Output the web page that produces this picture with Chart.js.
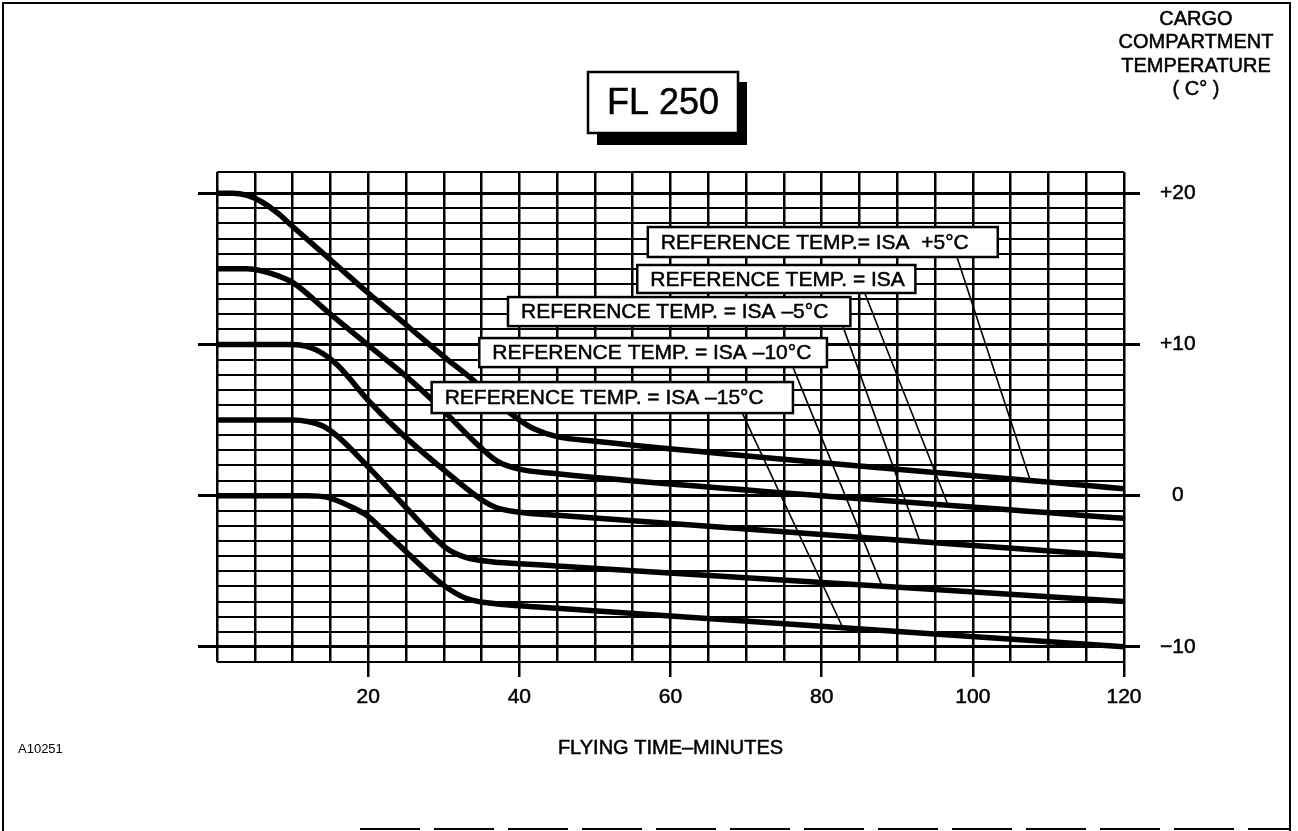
<!DOCTYPE html>
<html>
<head>
<meta charset="utf-8">
<title>FL 250 cargo compartment temperature</title>
<script src="https://cdn.jsdelivr.net/npm/chart.js@4.4.1/dist/chart.umd.min.js"></script>
<style>
  html, body { margin: 0; padding: 0; background: #fff; }
  #wrap { width: 1298px; height: 831px; }
</style>
</head>
<body>
<div id="wrap"><canvas id="chart" width="1298" height="831"></canvas></div>
<script>
// flying time (min) and cargo compartment temperature (deg C)
const isaPlus5Time = [0, 2, 4, 6, 8, 10, 15, 20, 25, 30, 34, 37, 40, 42, 45, 50, 120];
const isaPlus5Temp = [20, 20, 19.85, 19.4, 18.7, 17.8, 15.6, 13.4, 11.3, 9.2, 7.6, 6.2, 5.0, 4.4, 3.9, 3.6, 0.45];

const isaTime = [0, 4, 6, 8, 10, 15, 20, 25, 30, 34, 37, 40, 45, 50, 120];
const isaTemp = [15, 15, 14.85, 14.55, 14.1, 12.0, 9.95, 7.9, 5.6, 3.6, 2.3, 1.75, 1.45, 1.2, -1.5];

const isaMinus5Time = [0, 10, 12, 14, 16, 20, 24.2, 30, 34.8, 37, 40, 45, 120];
const isaMinus5Temp = [10, 10, 9.85, 9.4, 8.6, 6.3, 4.2, 1.7, -0.2, -0.8, -1.1, -1.3, -4.0];

const isaMinus10Time = [0, 10, 12, 14, 16, 20.2, 25.5, 30.4, 33, 36, 40, 45, 120];
const isaMinus10Temp = [5, 5, 4.9, 4.6, 3.9, 1.8, -1.05, -3.5, -4.1, -4.35, -4.5, -4.65, -7.0];

const isaMinus15Time = [0, 12, 14.5, 16.5, 18, 19.8, 22, 25, 29.9, 33, 36, 40.5, 45, 120];
const isaMinus15Temp = [0, 0, -0.1, -0.45, -0.8, -1.3, -2.3, -3.7, -5.9, -6.8, -7.1, -7.3, -7.45, -10.0];

const seriesNames = [
  "REFERENCE TEMP.= ISA  +5°C",
  "REFERENCE TEMP. = ISA",
  "REFERENCE TEMP. = ISA –5°C",
  "REFERENCE TEMP. = ISA –10°C",
  "REFERENCE TEMP. = ISA –15°C"
];

const xTickValues = [20, 40, 60, 80, 100, 120];
const xTickLabels = ["20", "40", "60", "80", "100", "120"];
const yTickValues = [20, 10, 0, -10];
const yTickLabels = ["+20", "+10", "0", "−10"];

const FONT = '"Liberation Sans", Arial, Helvetica, sans-serif';
Chart.defaults.font.family = FONT;
Chart.defaults.color = "#000";

function toPoints(xs, ys) {
  return xs.map((v, i) => ({ x: v, y: ys[i] }));
}

// linear read of a curve at a given time, for the leader lines
function valueAt(points, t) {
  for (let i = 1; i < points.length; i++) {
    if (t <= points[i].x) {
      const a = points[i - 1], b = points[i];
      return a.y + (b.y - a.y) * (t - a.x) / (b.x - a.x);
    }
  }
  return points[points.length - 1].y;
}

// label boxes in chart units (minutes / deg C); leader runs from box bottom to the curve
const labelBoxes = [
  { series: 0, left: 57.0, right: 103.3, top: 17.76, bottom: 15.78, from: 97.9, to: 107.6 },
  { series: 1, left: 55.6, right: 92.4, top: 15.25, bottom: 13.4, from: 85.7, to: 96.7 },
  { series: 2, left: 38.5, right: 83.8, top: 13.13, bottom: 11.21, from: 82.8, to: 93.0 },
  { series: 3, left: 34.7, right: 80.7, top: 10.42, bottom: 8.5, from: 76.2, to: 88.0 },
  { series: 4, left: 28.4, right: 76.2, top: 7.51, bottom: 5.46, from: 69.5, to: 82.8 }
];

const isMajorY = v => yTickValues.includes(v);
const isMajorX = v => xTickValues.includes(v);

// slightly heavier text, like the printed original
function inkText(c, s, x, y) {
  c.fillText(s, x, y);
  c.lineWidth = 0.5;
  c.strokeStyle = "#000";
  c.strokeText(s, x, y);
}

const sheet = {
  id: "sheet",
  beforeDraw(chart) {
    const c = chart.ctx;
    c.save();
    c.fillStyle = "#fff";
    c.fillRect(0, 0, chart.width, chart.height);
    c.restore();
  },
  afterDatasetsDraw(chart) {
    const c = chart.ctx;
    const { x, y } = chart.scales;
    c.save();
    // leader lines
    c.strokeStyle = "#000";
    c.lineWidth = 1.6;
    labelBoxes.forEach(b => {
      const pts = chart.data.datasets[b.series].data;
      c.beginPath();
      c.moveTo(x.getPixelForValue(b.from), y.getPixelForValue(b.bottom));
      c.lineTo(x.getPixelForValue(b.to), y.getPixelForValue(valueAt(pts, b.to)));
      c.stroke();
    });
    // boxes
    labelBoxes.forEach(b => {
      const l = x.getPixelForValue(b.left), r = x.getPixelForValue(b.right);
      const t = y.getPixelForValue(b.top), bt = y.getPixelForValue(b.bottom);
      c.fillStyle = "#fff";
      c.fillRect(l, t, r - l, bt - t);
      c.lineWidth = 2.5;
      c.strokeStyle = "#000";
      c.strokeRect(l, t, r - l, bt - t);
      c.fillStyle = "#000";
      c.font = "21px " + FONT;
      c.textAlign = "left";
      c.textBaseline = "middle";
      inkText(c, chart.data.datasets[b.series].label, l + 13, (t + bt) / 2 + 1);
    });
    c.restore();
  },
  afterDraw(chart) {
    const c = chart.ctx;
    c.save();
    // outer frame
    c.strokeStyle = "#000";
    c.lineWidth = 2;
    c.beginPath();
    c.moveTo(3, 831);
    c.lineTo(3, 3);
    c.lineTo(1290, 3);
    c.lineTo(1290, 831);
    c.stroke();
    c.setLineDash([60, 14]);
    c.beginPath();
    c.moveTo(360, 829);
    c.lineTo(1290, 829);
    c.stroke();
    c.setLineDash([]);

    // FL 250 box with shadow
    c.fillStyle = "#000";
    c.fillRect(597, 82, 150, 63);
    c.fillStyle = "#fff";
    c.fillRect(588, 72, 150, 61);
    c.lineWidth = 2.5;
    c.strokeRect(588, 72, 150, 61);
    c.fillStyle = "#000";
    c.font = "36px " + FONT;
    c.textAlign = "center";
    c.textBaseline = "middle";
    inkText(c, "FL 250", 663, 104);

    // right axis heading
    c.font = "20px " + FONT;
    ["CARGO", "COMPARTMENT", "TEMPERATURE", "( C° )"].forEach((s, i) => {
      inkText(c, s, 1196, 19 + i * 23.5);
    });

    // x axis title
    inkText(c, "FLYING TIME–MINUTES", chart.scales.x.getPixelForValue(60), 748);

    // drawing number
    c.font = "13px " + FONT;
    c.textAlign = "left";
    c.fillText("A10251", 18, 749);
    c.restore();
  }
};

const curves = [
  [isaPlus5Time, isaPlus5Temp],
  [isaTime, isaTemp],
  [isaMinus5Time, isaMinus5Temp],
  [isaMinus10Time, isaMinus10Temp],
  [isaMinus15Time, isaMinus15Temp]
];

new Chart(document.getElementById("chart"), {
  type: "line",
  data: {
    datasets: curves.map((c, i) => ({
      label: seriesNames[i],
      data: toPoints(c[0], c[1]),
      borderColor: "#000",
      borderWidth: 5.5,
      pointRadius: 0,
      cubicInterpolationMode: "monotone",
      borderCapStyle: "round",
      fill: false
    }))
  },
  options: {
    responsive: false,
    animation: false,
    devicePixelRatio: 1,
    layout: { padding: { left: 198, right: 74, top: 172, bottom: 59 } },
    plugins: { legend: { display: false }, tooltip: { enabled: false } },
    scales: {
      x: {
        type: "linear",
        min: 0,
        max: 120,
        ticks: {
          stepSize: 5,
          autoSkip: false,
          maxRotation: 0,
          padding: 8,
          font: { size: 21 },
          textStrokeColor: "#000",
          textStrokeWidth: 0.5,
          callback: v => {
            const i = xTickValues.indexOf(v);
            return i >= 0 ? xTickLabels[i] : "";
          }
        },
        grid: {
          color: "#000",
          lineWidth: 2.5,
          tickLength: 15,
          tickWidth: 2.5,
          tickColor: ctx => (ctx.tick && isMajorX(ctx.tick.value)) ? "#000" : "rgba(0,0,0,0)"
        },
        border: { display: false },
        afterFit: s => { s.height = 110; }
      },
      y: {
        type: "linear",
        position: "right",
        min: -11,
        max: 21.4,
        ticks: {
          stepSize: 1,
          autoSkip: false,
          crossAlign: "center",
          padding: 20,
          font: { size: 21 },
          textStrokeColor: "#000",
          textStrokeWidth: 0.5,
          callback: v => {
            const i = yTickValues.indexOf(v);
            return i >= 0 ? yTickLabels[i] : "";
          }
        },
        grid: {
          color: "#000",
          lineWidth: ctx => (ctx.tick && isMajorY(ctx.tick.value)) ? 3 : 2,
          tickLength: 16,
          tickWidth: 3,
          tickColor: ctx => (ctx.tick && isMajorY(ctx.tick.value)) ? "#000" : "rgba(0,0,0,0)"
        },
        border: { display: false },
        afterFit: s => { s.width = 100; }
      },
      yLeft: {
        type: "linear",
        position: "left",
        min: -11,
        max: 21.4,
        ticks: { stepSize: 1, display: false },
        grid: {
          drawOnChartArea: false,
          tickLength: 19,
          tickWidth: 3,
          tickColor: ctx => (ctx.tick && isMajorY(ctx.tick.value)) ? "#000" : "rgba(0,0,0,0)"
        },
        border: { display: false },
        afterFit: s => { s.width = 19; }
      }
    }
  },
  plugins: [sheet]
});
</script>
</body>
</html>
